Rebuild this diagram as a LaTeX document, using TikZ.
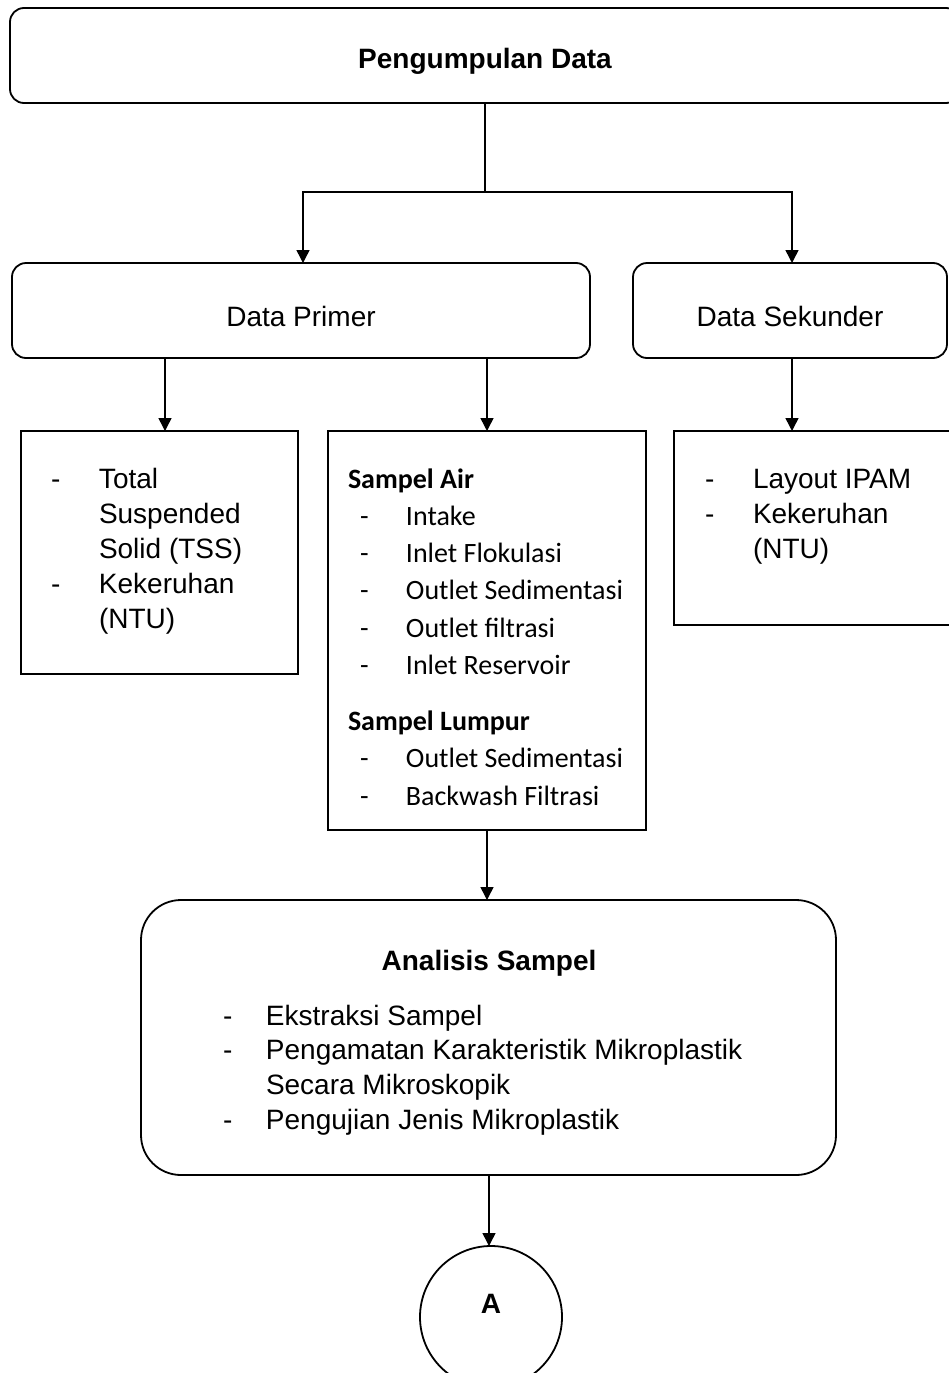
\documentclass[tikz,border=0pt]{standalone}
\usepackage{fontspec}
\setmainfont{Liberation Sans}
\newfontfamily\calib{Carlito}
\usetikzlibrary{arrows.meta,calc}
\begin{document}
\begin{tikzpicture}[x=1pt,y=-1pt,
  box/.style={draw, line width=1.8pt, inner sep=0pt, outer sep=0pt},
  rbox/.style={box, rounded corners=14pt},
  conn/.style={line width=1.5pt},
  arr/.style={conn, -{Triangle[length=13pt,width=13pt]}},
  lbl/.style={inner sep=0pt, outer sep=0pt, font=\fontsize{28}{34}\selectfont},
  hfont/.style={font=\bfseries\fontsize{28}{34}\selectfont},
  nfont/.style={font=\fontsize{28}{34}\selectfont},
]
\clip (0,0) rectangle (949,1373);
\fill[white] (0,0) rectangle (949,1373);

% boxes
\node[rbox, hfont, minimum width=950pt, minimum height=95pt, text height=25.6pt, text depth=0pt] (top) at (485,55.5) {Pengumpulan Data};
\node[rbox, nfont, minimum width=578pt, minimum height=95pt, text height=31pt, text depth=0pt] (primer) at (301,310.5) {Data Primer};
\node[rbox, nfont, minimum width=314pt, minimum height=95pt, text height=31pt, text depth=0pt] (sekunder) at (790,310.5) {Data Sekunder};
\node[box, minimum width=277pt, minimum height=243pt] (lbox) at (159.5,552.5) {};
\node[box, minimum width=318pt, minimum height=399pt] (mbox) at (487,630.5) {};
\node[box, minimum width=300pt, minimum height=194pt] (rbx) at (824,528) {};
\node[box, rounded corners=40pt, minimum width=695pt, minimum height=275pt] (anal) at (488.5,1037.5) {};
\node[box, circle, hfont, minimum size=142pt, text height=20pt, text depth=28pt] (A) at (491,1317) {A};

% texts
\node[lbl, anchor=base west] (ltxt) at (51,488) {\fontsize{28}{35}\selectfont
  \begin{tabular}[t]{@{}l@{}l@{}}
  \makebox[48pt][l]{-} & Total\\
   & Suspended\\
   & Solid (TSS)\\
  - & Kekeruhan\\
   & (NTU)
  \end{tabular}};

\node[lbl, anchor=base west] (mtxt) at (348,488) {\calib\fontsize{28}{37.3}\selectfont
  \begin{tabular}[t]{@{}l@{}l@{}}
  \multicolumn{2}{@{}l@{}}{\bfseries Sampel Air}\\
  \makebox[58pt][l]{\hspace{12pt}-} & Intake\\
  \hspace{12pt}- & Inlet Flokulasi\\
  \hspace{12pt}- & Outlet Sedimentasi\\
  \hspace{12pt}- & Outlet filtrasi\\
  \hspace{12pt}- & Inlet Reservoir\\[18.7pt]
  \multicolumn{2}{@{}l@{}}{\bfseries Sampel Lumpur}\\
  \hspace{12pt}- & Outlet Sedimentasi\\
  \hspace{12pt}- & Backwash Filtrasi
  \end{tabular}};

\node[lbl, anchor=base west] (rtxt) at (705,488) {\fontsize{28}{35}\selectfont
  \begin{tabular}[t]{@{}l@{}l@{}}
  \makebox[48pt][l]{-} & Layout IPAM\\
  - & Kekeruhan\\
   & (NTU)
  \end{tabular}};

\node[lbl, hfont, anchor=base] (ahead) at (489,970) {Analisis Sampel};
\node[lbl, anchor=base west] (atxt) at (223,1025) {\fontsize{28}{34.7}\selectfont
  \begin{tabular}[t]{@{}l@{}l@{}}
  \makebox[43pt][l]{-} & Ekstraksi Sampel\\
  - & Pengamatan Karakteristik Mikroplastik\\
   & Secara Mikroskopik\\
  - & Pengujian Jenis Mikroplastik
  \end{tabular}};

% connectors
\coordinate (split) at (485,192);
\coordinate (px) at (303,0);
\coordinate (sx) at (792,0);
\coordinate (lx) at (165,0);
\coordinate (mx) at (487,0);
\coordinate (ax) at (489,0);
\draw[conn] (top.south -| split) -- (split);
\draw[arr] (split) -| (px |- primer.north);
\draw[arr] (split) -| (sx |- sekunder.north);
\draw[arr] (lx |- primer.south) -- (lx |- lbox.north);
\draw[arr] (mx |- primer.south) -- (mx |- mbox.north);
\draw[arr] (sx |- sekunder.south) -- (sx |- rbx.north);
\draw[arr] (mx |- mbox.south) -- (mx |- anal.north);
\draw[arr] (ax |- anal.south) -- (ax |- A.north);
\end{tikzpicture}
\end{document}
